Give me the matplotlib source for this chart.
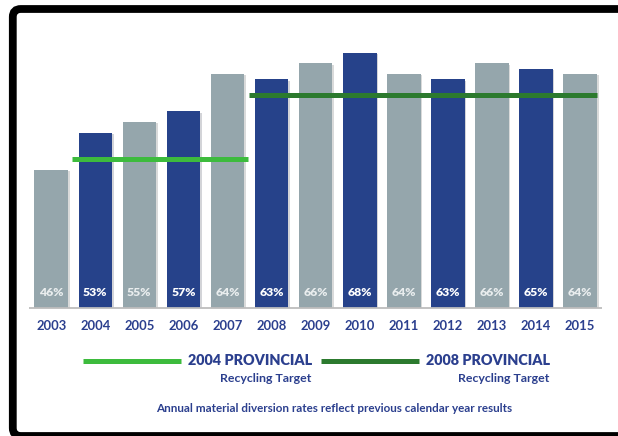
import matplotlib
matplotlib.use("Agg")
import matplotlib.pyplot as plt
from matplotlib.patches import FancyBboxPatch
from matplotlib.lines import Line2D
import matplotlib.patheffects as pe

years = ["2003", "2004", "2005", "2006", "2007", "2008", "2009",
         "2010", "2011", "2012", "2013", "2014", "2015"]
rates = [46, 53, 55, 57, 64, 63, 66, 68, 64, 63, 66, 65, 64]
bar_kind = ["gray", "blue", "gray", "blue", "gray", "blue", "gray",
            "blue", "gray", "blue", "gray", "blue", "gray"]
target_2004 = 48
target_2004_span = (0.47, 4.46)
target_2008 = 60
target_2008_span = (4.49, 12.38)

GRAY = "#95A6AC"
BLUE = "#26428A"
TXT = "#2B3F8E"
GREEN_L = "#3DBB3D"
GREEN_D = "#2C7A2E"
FONT = "Lato"

W, H = 618, 436
fig = plt.figure(figsize=(W / 100, H / 100), dpi=100)
fig.patch.set_facecolor("white")

# background axes in pixel coordinates
bg = fig.add_axes([0, 0, 1, 1], zorder=0)
bg.set_xlim(0, W)
bg.set_ylim(H, 0)
bg.axis("off")

frame = FancyBboxPatch((12.8, 9), 640, 427, boxstyle="round,pad=0,rounding_size=8",
                       linewidth=5.6, edgecolor="black", facecolor="white", zorder=0)
bg.add_patch(frame)

# main chart axes
ppu = 44.08
x0 = 51.2
xl = (-0.75, 12.75)
left_px = x0 + xl[0] * ppu
right_px = x0 + xl[1] * ppu
ppp = 5.318
ymin, ymax = 20, 72
base_px = 308
top_px = base_px - (ymax - ymin) * ppp
ax = fig.add_axes([left_px / W, (H - base_px) / H, (right_px - left_px) / W,
                   (base_px - top_px) / H], zorder=1)
ax.patch.set_alpha(0)
ax.set_xlim(*xl)
ax.set_ylim(ymin, ymax)
ax.axis("off")

xs = list(range(len(years)))
colors = [GRAY if k == "gray" else BLUE for k in bar_kind]
bars = ax.bar(xs, [r - ymin for r in rates], bottom=ymin, width=0.76, color=colors, zorder=2)
for b in bars:
    b.set_path_effects([pe.SimplePatchShadow(offset=(1.2, -1.0), alpha=0.18), pe.Normal()])

ax.plot([-0.5, 12.5], [ymin, ymin], color="#BDBDBD", lw=1.3, zorder=3, clip_on=False,
        solid_capstyle="butt")

ax.plot(target_2004_span, [target_2004] * 2, color=GREEN_L, lw=3.6, zorder=4,
        solid_capstyle="butt")
ax.plot(target_2008_span, [target_2008] * 2, color=GREEN_D, lw=3.6, zorder=4,
        solid_capstyle="butt")

for x, r, k in zip(xs, rates, bar_kind):
    ax.annotate(f"{r}%", (x, ymin), xytext=(0, 11), textcoords="offset points",
                ha="center", va="center", fontsize=8.8, fontweight="heavy", family=FONT,
                color="#E9EDEE" if k == "gray" else "white", zorder=5)
    ax.annotate(years[x], (x, ymin), xytext=(0, -13), textcoords="offset points",
                ha="center", va="center", fontsize=9.4, fontweight="bold", family=FONT,
                color=TXT, annotation_clip=False)

# legend
bg.add_line(Line2D([83, 181], [361, 361], color=GREEN_L, lw=3.6, solid_capstyle="butt"))
bg.add_line(Line2D([321, 419], [361, 361], color=GREEN_D, lw=3.6, solid_capstyle="butt"))
bg.text(312, 360, "2004 PROVINCIAL", ha="right", va="center", fontsize=10.4, fontweight="heavy",
        family=FONT, color=TXT)
bg.text(311, 378, "Recycling Target", ha="right", va="center", fontsize=8.9, fontweight="bold",
        family=FONT, color=TXT)
bg.text(550, 360, "2008 PROVINCIAL", ha="right", va="center", fontsize=10.4, fontweight="heavy",
        family=FONT, color=TXT)
bg.text(549, 378, "Recycling Target", ha="right", va="center", fontsize=8.9, fontweight="bold",
        family=FONT, color=TXT)
bg.text(334, 408, "Annual material diversion rates reflect previous calendar year results",
        ha="center", va="center", fontsize=8.4, fontweight="bold", family=FONT, color=TXT)

fig.savefig("out.png", dpi=100, facecolor="white")
